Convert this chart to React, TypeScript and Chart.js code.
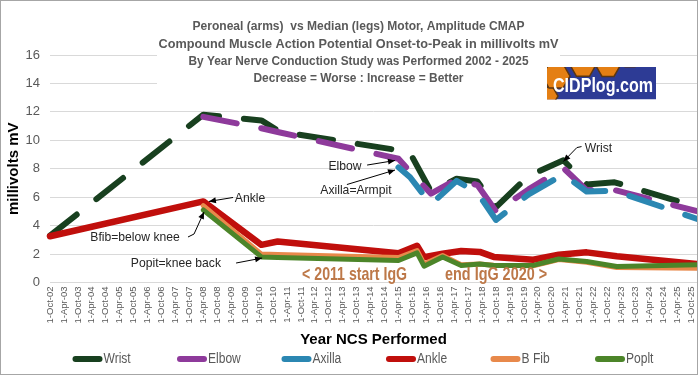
import React, { useEffect, useRef } from 'react';
import { Chart, registerables } from 'chart.js';

Chart.register(...registerables);

// ---------- data ----------
const titleLines = [
  'Peroneal (arms)  vs Median (legs) Motor, Amplitude CMAP',
  'Compound Muscle Action Potential Onset-to-Peak in millivolts mV',
  'By Year Nerve Conduction Study was Performed 2002 - 2025',
  'Decrease = Worse : Increase = Better',
];

const tickLabels = [
  '1-Oct-02', '1-Apr-03', '1-Oct-03', '1-Apr-04', '1-Oct-04', '1-Apr-05', '1-Oct-05', '1-Apr-06',
  '1-Oct-06', '1-Apr-07', '1-Oct-07', '1-Apr-08', '1-Oct-08', '1-Apr-09', '1-Oct-09', '1-Apr-10',
  '1-Oct-10', '1-Apr-11', '1-Oct-11', '1-Apr-12', '1-Oct-12', '1-Apr-13', '1-Oct-13', '1-Apr-14',
  '1-Oct-14', '1-Apr-15', '1-Oct-15', '1-Apr-16', '1-Oct-16', '1-Apr-17', '1-Oct-17', '1-Apr-18',
  '1-Oct-18', '1-Apr-19', '1-Oct-19', '1-Apr-20', '1-Oct-20', '1-Apr-21', '1-Oct-21', '1-Apr-22',
  '1-Oct-22', '1-Apr-23', '1-Oct-23', '1-Apr-24', '1-Oct-24', '1-Apr-25', '1-Oct-25',
];

// arm (median) study dates
const armDates = [
  '2002-10', '2008-04', '2010-05', '2011-01', '2015-04', '2015-09', '2016-06', '2017-05',
  '2018-02', '2018-10', '2019-12', '2021-03', '2022-01', '2023-01', '2026-01',
];
const wrist = [3.3, 11.8, 11.4, 10.6, 9.3, 9.1, 6.4, 7.3, 7.1, 5.3, 7.5, 8.6, 6.9, 7.05, 5.3];
const elbow = [null, 11.65, 10.85, 10.55, 8.7, 7.8, 6.25, 7.25, 6.85, 5.0, 6.55, 8.05, 6.5, 6.5, 5.0];
const axilla = [null, null, null, null, 8.1, 7.4, 5.5, 7.15, 6.3, 4.4, 6.2, 7.6, 6.4, 6.45, 4.45];

// leg (peroneal) study dates
const legDates = [
  '2002-10', '2008-04', '2010-05', '2010-12', '2015-04', '2015-12', '2016-03', '2016-11',
  '2017-07', '2018-03', '2018-09', '2020-02', '2021-01', '2022-01', '2023-02', '2026-01',
];
const ankle = [3.25, 5.7, 2.65, 2.88, 2.05, 2.58, 1.78, 2.02, 2.22, 2.15, 1.8, 1.6, 1.95, 2.12, 1.84, 1.3];
const bFib = [null, 5.4, 2.0, 1.97, 1.75, 2.25, 1.3, 1.9, 1.25, 1.3, 1.22, 1.18, 1.62, 1.42, 1.05, 1.0];
const poplt = [null, 5.1, 1.8, 1.75, 1.55, 2.08, 1.15, 1.8, 1.2, 1.3, 1.2, 1.2, 1.65, 1.48, 1.13, 1.25];

const seriesNames = ['Wrist', 'Elbow', 'Axilla', 'Ankle', 'B Fib', 'Poplt'];

// callouts: text anchor and arrow path in (months since Oct-02, mV)
const callouts = [
  { text: 'Ankle', at: [86.1, 5.94], path: [[78.8, 5.98], [68.4, 5.7]] },
  { text: 'Bfib=below knee', at: [36.6, 3.2], path: [[59.4, 3.2], [62.0, 3.41], [66.3, 4.96]] },
  { text: 'Popit=knee back', at: [54.2, 1.37], path: [[80.1, 1.37], [91.3, 1.72]] },
  { text: 'Elbow', at: [127.0, 8.16], path: [[136.5, 8.26], [148.5, 8.58]] },
  { text: 'Axilla=Armpit', at: [131.7, 6.47], path: [[127.8, 6.89], [148.5, 7.91]] },
  { text: 'Wrist', at: [236.1, 9.46], path: [[228.8, 9.56], [226.8, 9.49], [221.0, 8.51]] },
];
const igGNotes = [
  { text: '< 2011 start IgG', at: [131.1, 0.53] },
  { text: 'end IgG 2020 >', at: [192.0, 0.53] },
];

// ---------- helpers ----------
const MONTHS: Record<string, number> = {
  Jan: 1, Feb: 2, Mar: 3, Apr: 4, May: 5, Jun: 6, Jul: 7, Aug: 8, Sep: 9, Oct: 10, Nov: 11, Dec: 12,
};
const monthOfDate = (s: string) => {
  const [y, m] = s.split('-').map(Number);
  return (y - 2002) * 12 + (m - 10);
};
const monthOfTick = (s: string) => {
  const [, mon, yy] = s.split('-');
  return (2000 + Number(yy) - 2002) * 12 + (MONTHS[mon] - 10);
};
const toPoints = (dates: string[], vals: (number | null)[]) =>
  dates.map((d, i) => ({ x: monthOfDate(d), y: vals[i] }));

const FONT = "'Liberation Sans', Arial, Helvetica, sans-serif";

// style constants
const titleWidths = [332, 400, 340, 210];
const titleYs = [26.7, 44, 61, 78];
const igGWidths = [105, 102];

function fitText(ctx: any, text: string, cx: number, cy: number, scaleX: number, font: string, color: string, align = 'center') {
  ctx.save();
  ctx.font = font;
  ctx.fillStyle = color;
  ctx.textAlign = align;
  ctx.textBaseline = 'middle';
  ctx.translate(cx, cy);
  ctx.scale(scaleX, 1);
  ctx.fillText(text, 0, 0);
  ctx.restore();
}
function fitWidth(ctx: any, text: string, cx: number, cy: number, width: number, font: string, color: string) {
  ctx.save();
  ctx.font = font;
  const w = ctx.measureText(text).width;
  ctx.restore();
  fitText(ctx, text, cx, cy, width / w, font, color);
}

const decorPlugin = {
  id: 'decor',
  beforeDatasetsDraw(chart: any) {
    const ctx = chart.ctx;
    ctx.save();
    ctx.fillStyle = '#ffffff';
    ctx.fillRect(157, 2, 403, 87);
    ctx.restore();
    titleLines.forEach((t, i) => {
      fitWidth(ctx, t, 358.5, titleYs[i], titleWidths[i], `bold 13px ${FONT}`, '#595959');
    });
  },
  afterDraw(chart: any) {
    const ctx = chart.ctx;
    const xs = chart.scales.x;
    const ys = chart.scales.y;
    const px = (m: number) => xs.getPixelForValue(m);
    const py = (v: number) => ys.getPixelForValue(v);

    // callouts
    callouts.forEach((c) => {
      fitText(ctx, c.text, px(c.at[0]), py(c.at[1]), 0.9, `13.5px ${FONT}`, '#262626');
      const pts = c.path.map((p) => [px(p[0]), py(p[1])]);
      ctx.save();
      ctx.strokeStyle = '#000';
      ctx.lineWidth = 1;
      ctx.beginPath();
      pts.forEach((p, i) => (i ? ctx.lineTo(p[0], p[1]) : ctx.moveTo(p[0], p[1])));
      ctx.stroke();
      const a = pts[pts.length - 2];
      const b = pts[pts.length - 1];
      const ang = Math.atan2(b[1] - a[1], b[0] - a[0]);
      ctx.fillStyle = '#000';
      ctx.beginPath();
      ctx.moveTo(b[0], b[1]);
      ctx.lineTo(b[0] - 7 * Math.cos(ang) + 3 * Math.sin(ang), b[1] - 7 * Math.sin(ang) - 3 * Math.cos(ang));
      ctx.lineTo(b[0] - 7 * Math.cos(ang) - 3 * Math.sin(ang), b[1] - 7 * Math.sin(ang) + 3 * Math.cos(ang));
      ctx.closePath();
      ctx.fill();
      ctx.restore();
    });

    // IgG notes
    igGNotes.forEach((n, i) => {
      fitWidth(ctx, n.text, px(n.at[0]), py(n.at[1]), igGWidths[i], `bold 19px ${FONT}`, '#bd7848');
    });

    // logo
    ctx.save();
    const lx = 547, ly = 67, lw = 109, lh = 32.5;
    ctx.beginPath();
    ctx.rect(lx, ly, lw, lh);
    ctx.clip();
    ctx.fillStyle = '#2d3b95';
    ctx.fillRect(lx, ly, lw, lh);
    const hexes = [[548, 96, 10], [556, 76, 14], [583, 65, 13], [608, 66, 12], [630, 58, 10]];
    hexes.forEach(([cx, cy, r]) => {
      ctx.beginPath();
      for (let k = 0; k < 6; k++) {
        const ang = (Math.PI / 3) * k;
        ctx.lineTo(cx + r * Math.cos(ang), cy + r * Math.sin(ang));
      }
      ctx.closePath();
      ctx.fillStyle = '#e47f14';
      ctx.fill();
      ctx.strokeStyle = '#5b3612';
      ctx.lineWidth = 1.5;
      ctx.stroke();
    });
    ctx.restore();
    fitWidth(ctx, 'CIDPlog.com', 603, 86.5, 100, `bold 21px ${FONT}`, '#ffffff');

    // legend (from the chart's datasets)
    chart.data.datasets.forEach((ds: any, i: number) => {
      const x = 72.5 + i * 104.5;
      const y = 359;
      ctx.save();
      ctx.fillStyle = ds.borderColor;
      ctx.beginPath();
      ctx.moveTo(x + 3, y - 3);
      ctx.lineTo(x + 27, y - 3);
      ctx.arc(x + 27, y, 3, -Math.PI / 2, Math.PI / 2);
      ctx.lineTo(x + 3, y + 3);
      ctx.arc(x + 3, y, 3, Math.PI / 2, (3 * Math.PI) / 2);
      ctx.closePath();
      ctx.fill();
      ctx.restore();
      fitText(ctx, ds.label, x + 31, y, 0.86, `14px ${FONT}`, '#595959', 'left');
    });

    // outer border
    ctx.save();
    ctx.strokeStyle = '#a6a6a6';
    ctx.lineWidth = 1;
    ctx.strokeRect(0.5, 0.5, 697, 374);
    ctx.restore();
  },
};

export default function App() {
  const ref = useRef<HTMLCanvasElement | null>(null);

  useEffect(() => {
    document.body.style.margin = '0';
    const canvas = ref.current;
    if (!canvas) return;

    const line = (label: string, color: string, pts: any[], order: number, width: number, dash: number[]) => ({
      label,
      data: pts,
      borderColor: color,
      backgroundColor: color,
      borderWidth: width,
      borderDash: dash,
      borderCapStyle: 'round',
      borderJoinStyle: 'round',
      pointRadius: 0,
      pointHoverRadius: 0,
      fill: false,
      tension: 0,
      order,
      clip: { left: 6, top: 6, right: 0, bottom: 6 },
    });
    const DASH = [34, 25];

    const chart = new Chart(canvas, {
      type: 'line',
      data: {
        datasets: [
          line(seriesNames[0], '#18401f', toPoints(armDates, wrist), 6, 6, DASH),
          line(seriesNames[1], '#8e3a9b', toPoints(armDates, elbow), 5, 6, DASH),
          line(seriesNames[2], '#2b87b2', toPoints(armDates, axilla), 4, 6, DASH),
          line(seriesNames[3], '#c00f0c', toPoints(legDates, ankle), 3, 6.5, []),
          line(seriesNames[4], '#e8894b', toPoints(legDates, bFib), 2, 5, []),
          line(seriesNames[5], '#4c8529', toPoints(legDates, poplt), 1, 5, []),
        ] as any,
      },
      options: {
        responsive: false,
        animation: false,
        events: [],
        layout: { padding: { left: 0, right: 3, top: 55, bottom: 0 } },
        plugins: {
          title: { display: false },
          tooltip: { enabled: false },
          legend: { display: false },
        },
        scales: {
          x: {
            type: 'linear',
            min: 0,
            max: 278.5,
            afterBuildTicks: (s: any) => {
              s.ticks = tickLabels.map((l) => ({ value: monthOfTick(l) }));
            },
            afterFit: (s: any) => {
              s.height = 93.5;
              s.paddingLeft = 0;
              s.paddingRight = 0;
            },
            ticks: {
              autoSkip: false,
              minRotation: 90,
              maxRotation: 90,
              padding: 4,
              color: '#595959',
              font: { family: FONT, size: 9.5 },
              callback: (_v: any, i: number) => tickLabels[i],
            },
            grid: { display: false, drawTicks: false },
            border: { display: true, color: '#d9d9d9' },
            title: {
              display: true,
              text: 'Year NCS Performed',
              color: '#000',
              font: { family: FONT, size: 15, weight: 'bold' },
              padding: { top: 0, bottom: 27 },
            },
          },
          y: {
            min: 0,
            max: 16,
            afterFit: (s: any) => {
              s.width = 50;
              s.paddingTop = 0;
              s.paddingBottom = 0;
            },
            ticks: {
              stepSize: 2,
              padding: 10,
              color: '#595959',
              font: { family: FONT, size: 13 },
            },
            grid: { color: '#d9d9d9', drawTicks: false },
            border: { display: false },
            title: {
              display: true,
              text: 'millivolts mV',
              color: '#000',
              font: { family: FONT, size: 15, weight: 'bold' },
              padding: { top: 5, bottom: 0 },
            },
          },
        },
      } as any,
      plugins: [decorPlugin],
    });

    return () => chart.destroy();
  }, []);

  return (
    <div style={{ width: 700, height: 376, background: '#fff' }}>
      <canvas ref={ref} width={700} height={376} style={{ display: 'block', width: 700, height: 376 }} />
    </div>
  );
}
